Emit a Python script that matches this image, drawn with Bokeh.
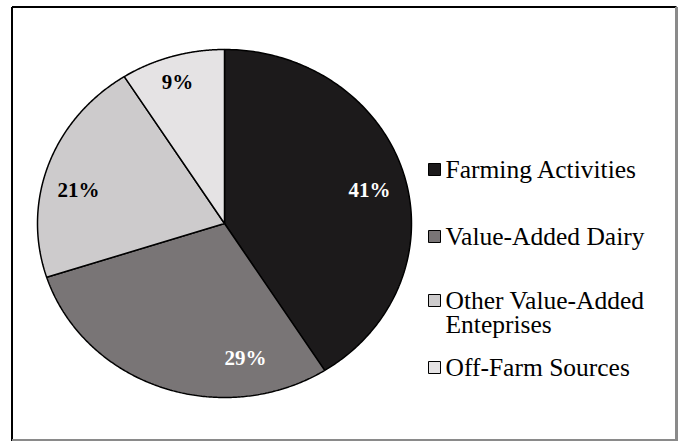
import numpy as np
from bokeh.plotting import figure
from bokeh.models import Range1d, ColumnDataSource
from bokeh.core.properties import value
from bokeh.embed import file_html
from bokeh.resources import INLINE

# ---- data ----
categories = ["Farming Activities", "Value-Added Dairy", "Other Value-Added\nEnteprises", "Off-Farm Sources"]
legend_lines = [["Farming Activities"], ["Value-Added Dairy"], ["Other Value-Added", "Enteprises"], ["Off-Farm Sources"]]
shares = [41, 29, 21, 9]
labels = ["41%", "29%", "21%", "9%"]
colors = ["#1c1a1b", "#797576", "#cdcbcc", "#e5e3e4"]
label_colors = ["white", "white", "black", "black"]

# ---- layout (pixel geometry) ----
W, H = 678, 441
CX, CY, RX, RY = 224, 223, 187, 174

def dx(px):
    return (px - CX) / RX

def dy(py):
    return (CY - py) / RY

p = figure(width=W, height=H, output_backend="svg", toolbar_location=None,
           x_range=Range1d(dx(0), dx(W)), y_range=Range1d(dy(H), dy(0)),
           min_border=0)
p.axis.visible = False
p.grid.visible = False
p.outline_line_color = None
p.background_fill_color = "white"
p.border_fill_color = "white"

# outer frame
p.segment(x0=[dx(11.5), dx(11.5)], y0=[dy(6.5), dy(6.5)],
          x1=[dx(676), dx(11.5)], y1=[dy(6.5), dy(441)],
          line_color="black", line_width=2)
p.segment(x0=[dx(676), dx(11.5)], y0=[dy(6.5), dy(440)],
          x1=[dx(676), dx(676)], y1=[dy(441), dy(440)],
          line_color="#8a8a8a", line_width=3)

# pie slices (clockwise from top), elliptical through the scales
total = float(sum(shares))
cum = np.concatenate([[0.0], np.cumsum(shares)]) / total
xs, ys = [], []
for i in range(len(shares)):
    t = np.linspace(cum[i], cum[i + 1], 200) * 2 * np.pi
    xs.append(np.concatenate([[0.0], np.sin(t), [0.0]]))
    ys.append(np.concatenate([[0.0], np.cos(t), [0.0]]))
src = ColumnDataSource(dict(xs=xs, ys=ys, color=colors))
p.patches("xs", "ys", source=src, fill_color="color", line_color="black", line_width=1.5)

# percentage labels
label_px = [(369, 189), (245, 357), (78, 189), (177, 81)]
p.text(x=[dx(a) for a, b in label_px], y=[dy(b) for a, b in label_px], text=labels,
       text_color=label_colors, text_font=value("Liberation Serif"), text_font_style="bold",
       text_font_size="21px", text_align="center", text_baseline="middle")

# legend
leg_y = [169, 236, 300, 367]
p.scatter(x=[dx(434)] * 4, y=[dy(v) for v in leg_y], marker="square", size=12,
          fill_color=colors, line_color="black", line_width=1)
tx, ty, tt = [], [], []
for lines, yy in zip(legend_lines, leg_y):
    for k, s in enumerate(lines):
        tx.append(dx(445)); ty.append(dy(yy + 24 * k)); tt.append(s)
p.text(x=tx, y=ty, text=tt, text_color="black", text_font=value("Liberation Serif"),
       text_font_size="25.5px", text_align="left", text_baseline="middle")

open("out.html", "w").write(file_html(p, INLINE))
